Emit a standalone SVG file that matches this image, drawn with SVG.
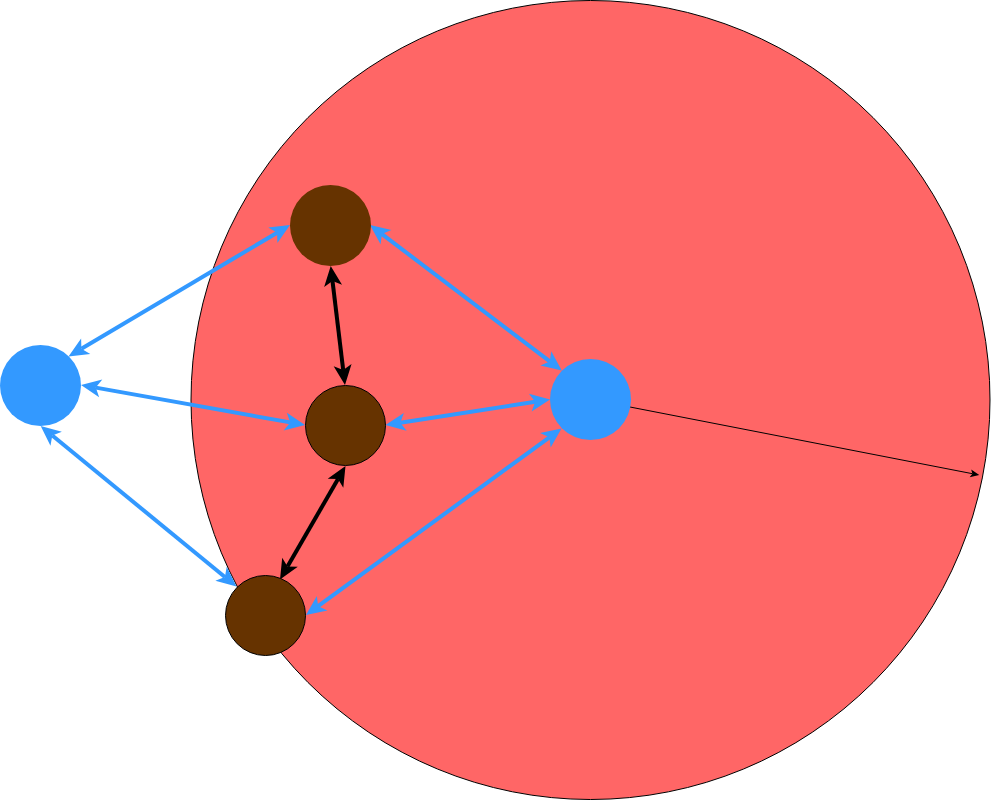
<svg xmlns="http://www.w3.org/2000/svg" width="991" height="800" viewBox="0 0 991 800">
<style>
.blue{stroke:#3399FF;stroke-width:4;fill:none}
.blk{stroke:#000;stroke-width:4;fill:none}
.thin{stroke:#000;stroke-width:1;fill:none}
</style>
<defs>
<marker id="ab" markerUnits="userSpaceOnUse" viewBox="-6 -10 22 20" refX="0" refY="0" markerWidth="22" markerHeight="20" orient="auto-start-reverse" overflow="visible">
<path d="M15,0 L-5,-9 L0,0 L-5,9 Z" fill="#3399FF"/>
</marker>
<marker id="ak" markerUnits="userSpaceOnUse" viewBox="-6 -10 22 20" refX="0" refY="0" markerWidth="22" markerHeight="20" orient="auto-start-reverse" overflow="visible">
<path d="M15,0 L-5,-9 L0,0 L-5,9 Z" fill="#000"/>
</marker>
<marker id="at" markerUnits="userSpaceOnUse" viewBox="-3 -5 11 10" refX="0" refY="0" markerWidth="11" markerHeight="10" orient="auto" overflow="visible">
<path d="M7,0 L-2,-4 L0,0 L-2,4 Z" fill="#000"/>
</marker>
</defs>
<g id="big-circle"><circle cx="590.5" cy="400" r="399.5" fill="#FF6666" stroke="#000" stroke-width="1"/></g>
<g id="connectors">
<line class="blue" x1="81.4" y1="348.8" x2="277.1" y2="232.7" marker-start="url(#ab)" marker-end="url(#ab)"/>
<line class="blue" x1="95.8" y1="387.6" x2="290.2" y2="422.4" marker-start="url(#ab)" marker-end="url(#ab)"/>
<line class="blue" x1="52.3" y1="435.5" x2="224.9" y2="577.0" marker-start="url(#ab)" marker-end="url(#ab)"/>
<line class="blue" x1="382.0" y1="234.1" x2="549.8" y2="361.4" marker-start="url(#ab)" marker-end="url(#ab)"/>
<line class="blue" x1="400.3" y1="422.7" x2="535.2" y2="401.8" marker-start="url(#ab)" marker-end="url(#ab)"/>
<line class="blue" x1="318.1" y1="606.2" x2="549.4" y2="437.3" marker-start="url(#ab)" marker-end="url(#ab)"/>
<line class="blk" x1="332.5" y1="280.9" x2="343.2" y2="370.1" marker-start="url(#ak)" marker-end="url(#ak)"/>
<line class="blk" x1="338" y1="479" x2="287.5" y2="566.5" marker-start="url(#ak)" marker-end="url(#ak)"/>
<line class="thin" x1="630" y1="407" x2="972.4" y2="473.7" marker-end="url(#at)"/>
</g>
<g id="blue-left"><circle cx="40.5" cy="385.5" r="40.5" fill="#3399FF"/></g>
<g id="blue-right"><circle cx="590.5" cy="399.5" r="40.5" fill="#3399FF"/></g>
<g id="brown-top"><circle cx="330.5" cy="225.5" r="40.5" fill="#663300"/></g>
<g id="brown-middle"><circle cx="345.5" cy="425.5" r="40" fill="#663300" stroke="#000" stroke-width="1"/></g>
<g id="brown-bottom"><circle cx="265.5" cy="615.5" r="40" fill="#663300" stroke="#000" stroke-width="1"/></g>
</svg>
